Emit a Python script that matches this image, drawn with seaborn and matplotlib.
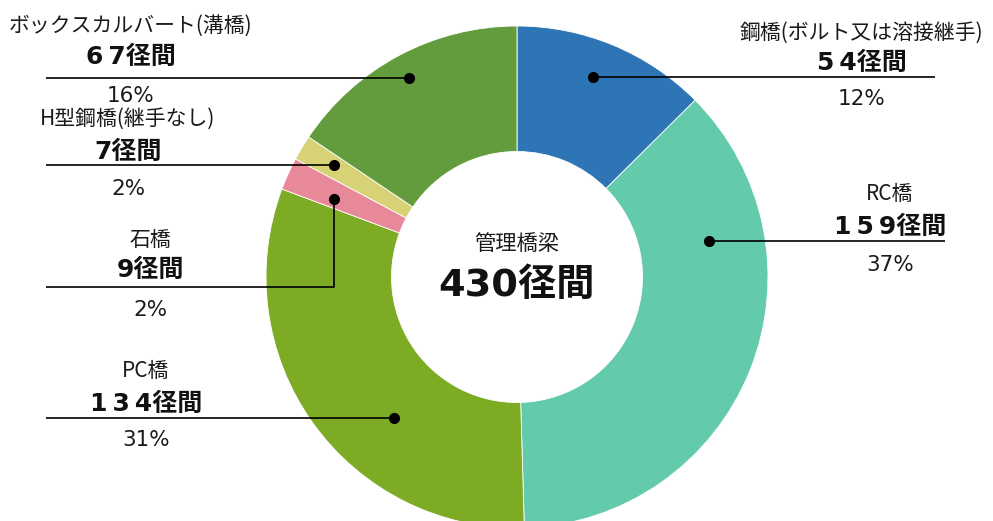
import matplotlib
matplotlib.use('Agg')
import matplotlib.pyplot as plt
import seaborn as sns

# data (clockwise from top)
names = ['鋼橋(ボルト又は溶接継手)', 'RC橋', 'PC橋', '石橋', 'H型鋼橋(継手なし)', 'ボックスカルバート(溝橋)']
counts = [54, 159, 134, 9, 7, 67]
count_labels = ['5\u20094径間', '1\u20095\u20099径間', '1\u20093\u20094径間', '9径間', '7径間', '6\u20097径間']
pct_labels = ['12%', '37%', '31%', '2%', '2%', '16%']
colors = ['#2E75B6', '#63CAAB', '#7DAB23', '#E8899A', '#D8D277', '#629C3D']
total_title = '管理橋梁'
total_label = '430径間'

sns.set_theme(style='white')
plt.rcParams['font.family'] = ['Noto Sans CJK JP', 'DejaVu Sans']
num_font = ['DejaVu Sans', 'Noto Sans CJK JP']

W, H = 993, 521
fig = plt.figure(figsize=(W / 100, H / 100), dpi=100)
ax = fig.add_axes([0, 0, 1, 1])

def Y(py):
    return H - py

cx, cy, R = 517, 277, 251
ax.pie(counts, colors=colors, startangle=90, counterclock=False,
       center=(cx, Y(cy)), radius=R,
       wedgeprops=dict(width=R * 0.5, edgecolor='white', linewidth=0.6))
ax.set_xlim(0, W)
ax.set_ylim(0, H)
ax.set_aspect('equal')
ax.axis('off')

# label layout: text centre x, name y, count y, pct y, line path (pixels)
layout = [
    (862, 33, 63, 99, [(935, 77), (593, 77)]),
    (890, 194, 227, 265, [(945, 241), (709, 241)]),
    (146, 371, 404, 440, [(46, 418), (394, 418)]),
    (150, 240, 270, 310, [(46, 287), (334, 287), (334, 199)]),
    (128, 119, 152, 189, [(46, 165), (334, 165)]),
    (131, 26, 57, 96, [(46, 78), (409, 78)]),
]

for name, cl, pl, (tx, ny, cy_, py, path) in zip(names, count_labels, pct_labels, layout):
    ax.text(tx, Y(ny), name, ha='center', va='center', fontsize=15, color='#1a1a1a')
    ax.text(tx, Y(cy_), cl, ha='center', va='center', fontsize=18, fontweight='bold',
            color='#111111', family=num_font)
    ax.text(tx, Y(py), pl, ha='center', va='center', fontsize=15.5, color='#1a1a1a',
            family=num_font)
    xs = [p[0] for p in path]
    ys = [Y(p[1]) for p in path]
    ax.plot(xs, ys, color='black', lw=1.2, solid_capstyle='butt')
    ax.plot(xs[-1], ys[-1], 'o', color='black', markersize=7)

ax.text(cx, Y(244), total_title, ha='center', va='center', fontsize=15.3, color='#1a1a1a')
ax.text(cx, Y(286), total_label, ha='center', va='center', fontsize=27.5, fontweight='bold',
        color='#111111', family=num_font)

fig.savefig('out.png', dpi=100)
